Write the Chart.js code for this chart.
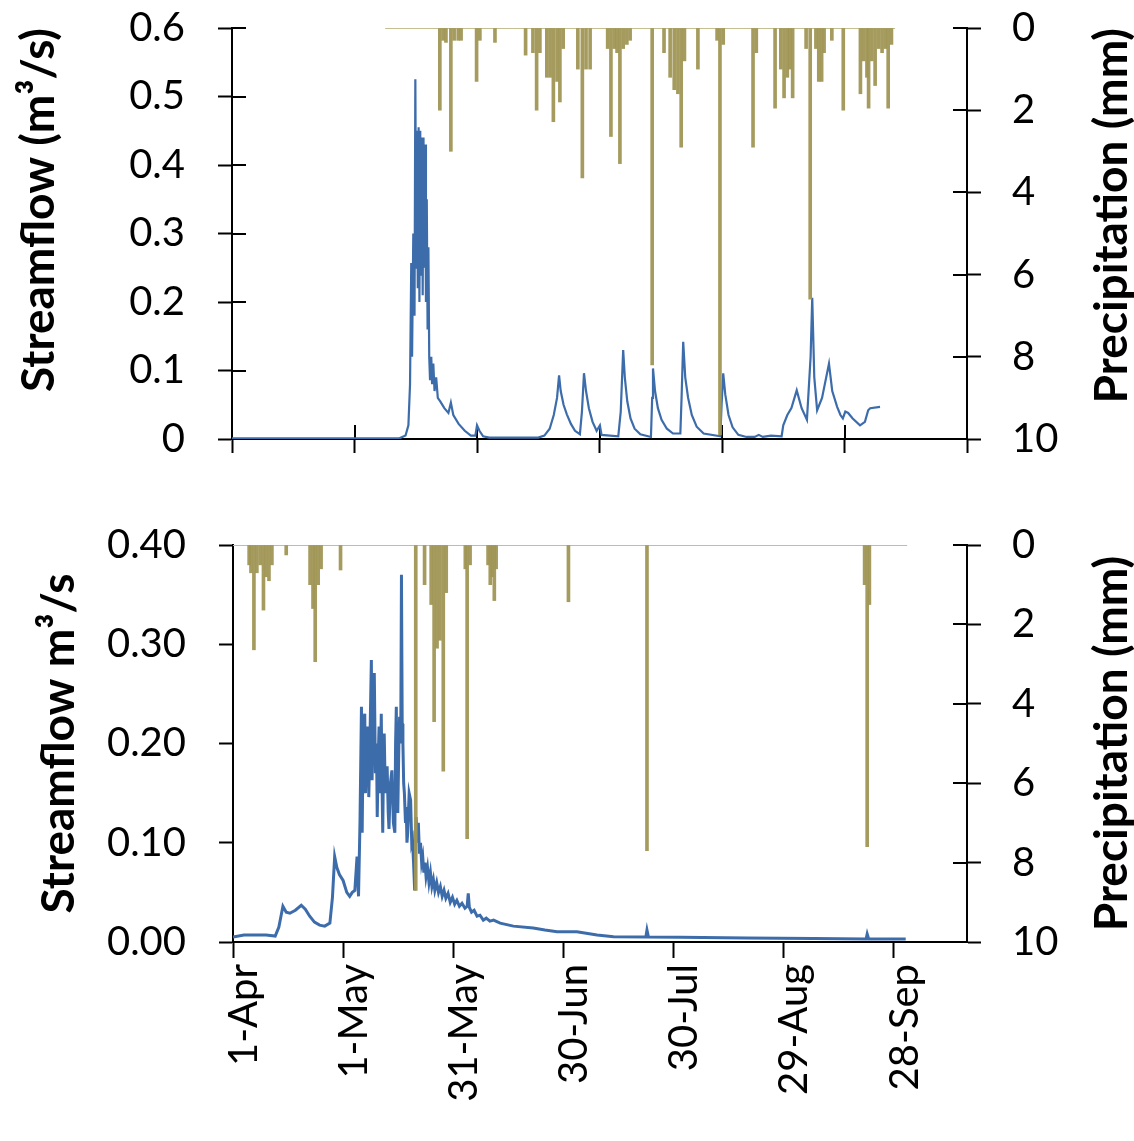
<!DOCTYPE html>
<html>
<head>
<meta charset="utf-8">
<script src="https://cdn.jsdelivr.net/npm/chart.js@4.4.1/dist/chart.umd.min.js"></script>
<style>
  body { margin: 0; background: #fff; }
  #wrap { position: relative; width: 1134px; height: 1141px; }
  canvas { position: absolute; left: 0; }
</style>
</head>
<body>
<div id="wrap">
  <canvas id="topChart" width="1134" height="480" style="top:0"></canvas>
  <canvas id="bottomChart" width="1134" height="661" style="top:480px"></canvas>
</div>
<script>
// x is days since 1 April
var xTickDays = [0, 30, 60, 90, 120, 150, 180];
var xTickLabels = ['1-Apr', '1-May', '31-May', '30-Jun', '30-Jul', '29-Aug', '28-Sep'];

// top panel - streamflow (m3/s)
var topFlowDays = [0, 41, 42.5, 43.2, 43.6, 43.9, 44.1, 44.4, 44.7, 44.9, 45.1, 45.3, 45.5, 45.7, 45.9, 46.1, 46.3, 46.5, 46.7, 46.9,
  47.1, 47.3, 47.5, 47.7, 47.9, 48.1, 48.3, 48.5, 48.8, 49.0, 49.3, 49.6, 50.0, 50.4, 51, 52, 53, 53.6, 54.2, 55.5, 57, 58.5,
  59.6, 60.0, 60.6, 61.5, 63,
  75, 76.5, 77.8, 78.8, 79.6, 80.1, 80.5, 81.2, 82, 83, 84, 85.2, 85.7, 86.2, 86.7, 87.4, 88.3, 89.3, 90.1, 90.5,
  94.6, 95.2, 95.8, 96.2, 96.8, 97.6, 98.6, 100, 102.6, 102.9, 103.1, 103.6, 104.3, 105.2, 106.5, 108, 109.8, 110.1, 110.5,
  111, 111.7, 112.6, 113.8, 115.5, 119.6, 119.9, 120.3, 120.8, 121.6, 122.6, 124, 126,
  128, 129, 130, 132, 134.6, 135, 136, 137, 138.3, 139.5, 140.8, 141.7, 142.1, 142.6, 143.3, 144.5, 146.2, 147, 148.2, 149, 149.6,
  150.2, 150.9, 152, 153.8, 155, 155.8, 156.3, 158.7];
var topFlowValues = [0.001, 0.001, 0.005, 0.02, 0.08, 0.257, 0.12, 0.3, 0.18, 0.525, 0.25, 0.45, 0.22, 0.455, 0.2, 0.45, 0.24, 0.44, 0.21, 0.44,
  0.25, 0.43, 0.2, 0.35, 0.16, 0.28, 0.12, 0.086, 0.12, 0.08, 0.11, 0.07, 0.09, 0.06, 0.055, 0.045, 0.038, 0.053, 0.035, 0.022, 0.012, 0.005,
  0.005, 0.02, 0.012, 0.004, 0.002,
  0.002, 0.005, 0.015, 0.035, 0.06, 0.093, 0.07, 0.05, 0.036, 0.022, 0.012, 0.007, 0.04, 0.096, 0.07, 0.045, 0.025, 0.012, 0.02, 0.006,
  0.004, 0.04, 0.13, 0.09, 0.055, 0.03, 0.015, 0.007, 0.003, 0.06, 0.103, 0.07, 0.045, 0.028, 0.015, 0.008, 0.008, 0.06, 0.142,
  0.09, 0.06, 0.035, 0.018, 0.008, 0.004, 0.05, 0.096, 0.065, 0.035, 0.017, 0.006, 0.003,
  0.003, 0.006, 0.003, 0.005, 0.004, 0.02, 0.035, 0.045, 0.071, 0.045, 0.028, 0.12, 0.206, 0.09, 0.042, 0.06, 0.11, 0.07, 0.047, 0.035, 0.03,
  0.04, 0.038, 0.03, 0.02, 0.025, 0.042, 0.045, 0.047];

// top panel - precipitation (mm)
var topRainDays = [50.9, 51.7, 52.4, 53.6, 54.4, 55.4, 56.1, 59.9, 60.7, 64.4, 71.9, 73.7, 74.6, 75.4, 77.1, 77.9, 78.7, 79.6, 80.3, 81.1,
  84.7, 85.8, 86.7, 87.7, 92.0, 92.8, 93.6, 94.3, 95.0, 95.8, 96.7, 97.5,
  102.9, 105.8, 107.3, 108.3, 109.2, 110.0, 110.8, 114.1, 118.8, 119.5, 120.3, 127.6, 128.4, 133.0, 134.4, 135.2, 136.0, 136.6, 137.3,
  140.6, 141.6, 143.0, 143.7, 144.4, 145.0, 146.9, 149.7, 153.9, 154.7, 155.5, 155.9, 156.7, 157.5, 158.4, 159.2, 160.0, 160.7, 161.5];
var topRainMm = [2.0, 0.3, 0.35, 3.0, 0.3, 0.3, 0.3, 1.3, 0.3, 0.35, 0.66, 0.6, 2.0, 0.6, 1.2, 1.2, 2.28, 1.3, 1.8, 0.5,
  1.0, 3.65, 1.0, 1.0, 0.5, 2.64, 0.5, 0.6, 3.3, 0.5, 0.4, 0.3,
  8.2, 0.6, 1.2, 1.5, 1.6, 2.9, 0.8, 1.0, 0.3, 9.9, 0.4, 2.9, 0.6, 1.95, 1.0, 1.7, 1.2, 1.0, 1.7,
  0.5, 6.6, 0.5, 1.3, 1.3, 0.6, 0.3, 2.0, 1.6, 0.8, 1.2, 1.95, 0.8, 1.4, 0.5, 0.6, 0.5, 1.95, 0.4];
var topRainSpan = [37.5, 162.4];

// bottom panel - streamflow (m3/s)
var botFlowDays = [0, 3, 6, 9, 11.5, 12.5, 13.6, 14.5, 15.5, 17, 18.6, 19.7, 20.9, 22.2, 23.6, 25, 26.4, 27.1, 27.7, 28.3, 29, 30, 31, 31.8,
  32.5, 33.2, 33.8, 34.2, 34.6, 35.0, 35.2, 35.5, 35.9, 36.1, 36.4, 36.7, 37.0, 37.3, 37.7, 37.9, 38.2, 38.5, 38.8, 39.1, 39.3, 39.6,
  39.8, 40.1, 40.4, 40.6, 40.8, 41.0, 41.2, 41.5, 41.8, 42.0, 42.3, 42.5, 42.9, 43.3, 43.7, 44.1, 44.3, 44.5, 44.7, 44.9, 45.2, 45.4,
  45.7, 45.9, 46.1, 46.3, 46.5, 46.7, 47.0, 47.2, 47.4, 47.6, 48.0, 48.4, 48.7, 48.9, 49.2, 49.5, 49.7, 49.9, 50.2, 50.5, 50.8, 51.1,
  51.4, 51.7, 52.0, 52.3, 52.6, 53.0, 53.4, 53.8, 54.2, 54.6, 55.0, 55.5, 56.0, 56.5, 57.0, 57.5, 58.0, 58.6, 59.2, 59.8, 60.4, 61.0,
  61.7, 62.4, 63.2, 63.8, 64.1, 64.4, 65.0, 65.7, 66.5, 67.3, 68.2, 69, 70, 71, 72.8, 76.4, 81.8, 85, 88.3, 93.7, 99.2, 103.7, 112.5,
  112.8, 113.2, 121.9, 140, 158.2, 172.5, 172.8, 173.2, 181, 183.3];
var botFlowValues = [0.005, 0.007, 0.007, 0.007, 0.006, 0.015, 0.036, 0.03, 0.029, 0.032, 0.037, 0.033, 0.026, 0.02, 0.017, 0.016, 0.019, 0.045, 0.086, 0.075, 0.068, 0.062, 0.05, 0.046,
  0.05, 0.052, 0.086, 0.046, 0.12, 0.237, 0.11, 0.22, 0.23, 0.15, 0.21, 0.217, 0.146, 0.2, 0.284, 0.163, 0.25, 0.271, 0.17, 0.2, 0.126, 0.19,
  0.217, 0.15, 0.23, 0.16, 0.11, 0.18, 0.21, 0.15, 0.17, 0.177, 0.13, 0.114, 0.16, 0.173, 0.12, 0.11, 0.2, 0.237, 0.15, 0.13, 0.2, 0.227,
  0.2, 0.37, 0.22, 0.2, 0.16, 0.15, 0.12, 0.136, 0.1, 0.11, 0.15, 0.143, 0.1, 0.103, 0.08, 0.052, 0.1, 0.126, 0.1, 0.12, 0.089, 0.1,
  0.08, 0.086, 0.07, 0.08, 0.066, 0.075, 0.06, 0.07, 0.056, 0.063, 0.052, 0.06, 0.05, 0.056, 0.046, 0.052, 0.044, 0.049, 0.04, 0.045, 0.038, 0.042,
  0.036, 0.039, 0.034, 0.036, 0.049, 0.035, 0.03, 0.032, 0.026, 0.027, 0.022, 0.024, 0.021, 0.022, 0.019, 0.016, 0.014, 0.012, 0.0104, 0.0104, 0.007, 0.0054, 0.005,
  0.012, 0.005, 0.0047, 0.004, 0.0035, 0.003, 0.008, 0.003, 0.003, 0.003];

// bottom panel - precipitation (mm)
var botRainDays = [4.4, 4.9, 5.7, 6.5, 7.4, 8.3, 9.0, 9.8, 10.6, 14.5, 21.0, 21.8, 22.4, 23.2, 24.0, 29.3, 49.8, 52.2, 54.0, 54.8, 55.6, 56.4,
  57.3, 58.1, 63.3, 63.8, 64.6, 69.5, 70.1, 70.6, 71.2, 71.7, 91.4, 112.8, 172.1, 172.8, 173.4];
var botRainMm = [0.5, 0.7, 2.64, 0.7, 0.5, 1.64, 0.8, 0.9, 0.5, 0.25, 1.0, 1.6, 2.94, 1.0, 0.6, 0.63, 8.7, 1.0, 1.5, 4.45, 2.6, 2.4,
  5.7, 1.2, 0.6, 7.4, 0.5, 0.5, 1.0, 0.8, 1.4, 0.6, 1.43, 7.7, 1.0, 7.6, 1.5];
var botRainSpan = [0, 183.7];

var flowColor = '#3d6cab';
var rainColor = 'rgba(160, 150, 85, 0.95)';
var rainLineColor = '#c4bf92';
var fontFamily = 'Lato, "Open Sans", sans-serif';

function pairs(xs, ys) {
    return xs.map(function (x, i) { return { x: x, y: ys[i] }; });
}

// tick marks that also poke into the plot area
var crossTicks = {
    id: 'crossTicks',
    beforeDatasetsDraw: function (chart, args, opts) {
        var ctx = chart.ctx, area = chart.chartArea;
        ctx.save();
        ctx.strokeStyle = '#000';
        ctx.lineWidth = 2;
        ['x', 'y', 'y2'].forEach(function (id) {
            var len = opts[id];
            var scale = chart.scales[id];
            if (!len || !scale) return;
            scale.ticks.forEach(function (t) {
                var p = Math.round(scale.getPixelForValue(t.value));
                ctx.beginPath();
                if (id === 'x') {
                    ctx.moveTo(p, area.bottom);
                    ctx.lineTo(p, area.bottom - len);
                } else if (id === 'y') {
                    ctx.moveTo(area.left, p);
                    ctx.lineTo(area.left + len, p);
                } else {
                    ctx.moveTo(area.right, p);
                    ctx.lineTo(area.right - len, p);
                }
                ctx.stroke();
            });
        });
        ctx.restore();
    }
};

// right axis title reads bottom-to-top like the left one
var rightTitle = {
    id: 'rightTitle',
    afterDraw: function (chart, args, opts) {
        var s = chart.scales.y2, ctx = chart.ctx;
        ctx.save();
        ctx.font = 'bold ' + opts.size + 'px ' + fontFamily;
        ctx.fillStyle = '#000';
        ctx.textBaseline = 'middle';
        var y = opts.align === 'end' ? s.top : (s.top + s.bottom) / 2;
        ctx.translate(1134 - opts.offset, y);
        ctx.rotate(-Math.PI / 2);
        ctx.textAlign = opts.align === 'end' ? 'right' : 'center';
        ctx.fillText(opts.text, 0, 0);
        ctx.restore();
    }
};

function makeChart(id, p) {
    var tickFont = { family: fontFamily, size: 40 };
    return new Chart(document.getElementById(id), {
        data: {
            datasets: [{
                type: 'bar',
                data: pairs(p.rainDays, p.rainMm),
                yAxisID: 'y2',
                backgroundColor: rainColor,
                barThickness: 3,
                order: 0
            }, {
                type: 'line',
                data: pairs(p.flowDays, p.flowValues),
                yAxisID: 'y',
                borderColor: flowColor,
                borderWidth: p.flowWidth,
                pointRadius: 0,
                tension: 0,
                order: 1
            }, {
                type: 'line',
                data: [{ x: p.rainSpan[0], y: 0 }, { x: p.rainSpan[1], y: 0 }],
                yAxisID: 'y2',
                borderColor: rainLineColor,
                borderWidth: 2,
                pointRadius: 0,
                order: 2
            }]
        },
        options: {
            responsive: false,
            animation: false,
            layout: { padding: { top: p.top, left: 0, right: 0, bottom: 0 } },
            plugins: {
                legend: { display: false },
                tooltip: { enabled: false },
                crossTicks: p.inner,
                rightTitle: p.rightTitle
            },
            scales: {
                x: {
                    type: 'linear',
                    offset: false,
                    min: 0,
                    max: p.xMax,
                    afterFit: function (s) { s.height = p.xHeight; s.paddingLeft = 0; s.paddingRight = 0; },
                    afterBuildTicks: function (s) { s.ticks = xTickDays.map(function (d) { return { value: d }; }); },
                    ticks: {
                        display: p.xLabels,
                        autoSkip: false,
                        minRotation: 90,
                        maxRotation: 90,
                        padding: 6,
                        labelOffset: 11,
                        color: '#000',
                        font: tickFont,
                        callback: function (v) {
                            var i = xTickDays.indexOf(v);
                            return i < 0 ? '' : xTickLabels[i];
                        }
                    },
                    grid: { offset: false, drawOnChartArea: false, drawTicks: true, tickLength: p.xTickLen, tickWidth: 2, tickColor: '#000' },
                    border: { color: '#000', width: 2 }
                },
                y: {
                    position: 'left',
                    min: 0,
                    max: p.yMax,
                    afterFit: function (s) { s.width = p.left; s.paddingTop = 0; s.paddingBottom = 0; },
                    ticks: {
                        stepSize: p.yStep,
                        padding: 33,
                        color: '#000',
                        font: tickFont,
                        callback: p.yFormat
                    },
                    grid: { drawOnChartArea: false, drawTicks: true, tickLength: 14, tickWidth: 2, tickColor: '#000' },
                    border: { color: '#000', width: 2 },
                    title: {
                        display: true,
                        text: p.leftTitle,
                        align: p.leftAlign,
                        color: '#000',
                        font: { family: fontFamily, size: 46, weight: 'bold' },
                        padding: { top: p.leftPad, bottom: 0 }
                    }
                },
                y2: {
                    position: 'right',
                    reverse: true,
                    min: 0,
                    max: 10,
                    afterFit: function (s) { s.width = 167; s.paddingTop = 0; s.paddingBottom = 0; },
                    ticks: { stepSize: 2, padding: 31, color: '#000', font: tickFont },
                    grid: { drawOnChartArea: false, drawTicks: true, tickLength: 14, tickWidth: 2, tickColor: '#000' },
                    border: { color: '#000', width: 2 }
                }
            }
        },
        plugins: [crossTicks, rightTitle]
    });
}

makeChart('topChart', {
    flowDays: topFlowDays, flowValues: topFlowValues,
    rainDays: topRainDays, rainMm: topRainMm, rainSpan: topRainSpan,
    flowWidth: 2.2,
    top: 28, left: 232, xMax: 180, xHeight: 41, xLabels: false, xTickLen: 14,
    yMax: 0.6, yStep: 0.1,
    yFormat: function (v) { return v === 0 ? '0' : v.toFixed(1); },
    leftTitle: 'Streamflow (m³/s)', leftAlign: 'end', leftPad: 12,
    inner: { x: 14, y: 14, y2: 14 },
    rightTitle: { text: 'Precipitation (mm)', align: 'end', offset: 22, size: 46 }
});

makeChart('bottomChart', {
    flowDays: botFlowDays, flowValues: botFlowValues,
    rainDays: botRainDays, rainMm: botRainMm, rainSpan: botRainSpan,
    flowWidth: 3,
    top: 65, left: 233, xMax: 200, xHeight: 199, xLabels: true, xTickLen: 16,
    yMax: 0.4, yStep: 0.1,
    yFormat: function (v) { return v.toFixed(2); },
    leftTitle: 'Streamflow m³/s', leftAlign: 'center', leftPad: 32,
    inner: { x: 0, y: 0, y2: 14 },
    rightTitle: { text: 'Precipitation (mm)', align: 'center', offset: 22, size: 46 }
});
</script>
</body>
</html>
